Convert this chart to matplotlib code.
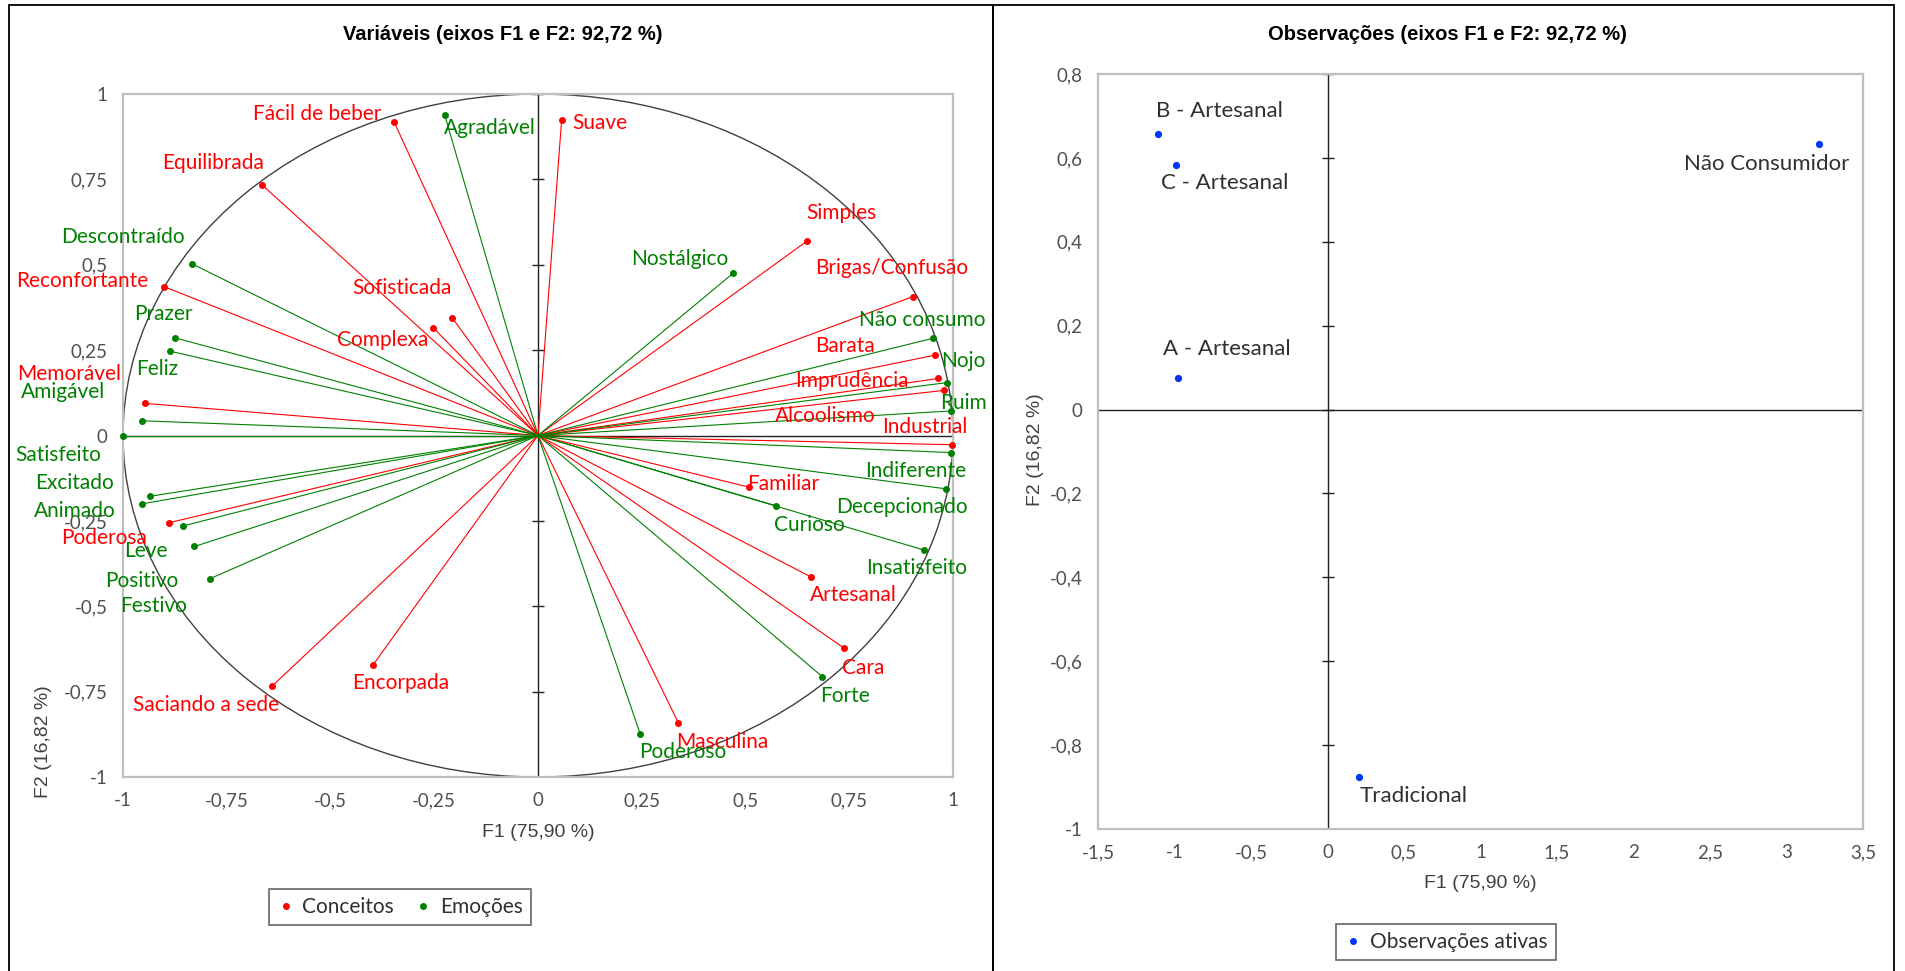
import numpy as np
import matplotlib
matplotlib.use("Agg")
import matplotlib.pyplot as plt
from matplotlib.patches import Circle, Rectangle
from matplotlib.lines import Line2D

# ---------------- data ----------------
conceitos = ["Fácil de beber", "Suave", "Equilibrada", "Simples", "Brigas/Confusão",
             "Reconfortante", "Sofisticada", "Complexa", "Barata", "Imprudência",
             "Memorável", "Alcoolismo", "Industrial", "Familiar", "Poderosa",
             "Artesanal", "Cara", "Saciando a sede", "Encorpada", "Masculina"]
conc_f1 = [-0.347, 0.057, -0.664, 0.649, 0.904, -0.901, -0.207, -0.252, 0.956, 0.965,
           -0.947, 0.978, 0.998, 0.508, -0.888, 0.659, 0.738, -0.640, -0.397, 0.338]
conc_f2 = [0.919, 0.925, 0.733, 0.570, 0.407, 0.436, 0.345, 0.315, 0.235, 0.167,
           0.094, 0.132, -0.027, -0.151, -0.255, -0.415, -0.623, -0.733, -0.671, -0.841]

emocoes = ["Agradável", "Descontraído", "Prazer", "Feliz", "Amigável", "Satisfeito",
           "Excitado", "Animado", "Leve", "Positivo", "Festivo", "Nostálgico",
           "Não consumo", "Nojo", "Ruim", "Indiferente", "Decepcionado", "Curioso",
           "Insatisfeito", "Forte", "Poderoso"]
emo_f1 = [-0.225, -0.834, -0.875, -0.887, -0.954, -0.999, -0.935, -0.954, -0.856, -0.828,
          -0.790, 0.470, 0.953, 0.986, 0.996, 0.996, 0.982, 0.574, 0.929, 0.685, 0.246]
emo_f2 = [0.939, 0.503, 0.286, 0.247, 0.043, 0.0, -0.178, -0.200, -0.265, -0.325,
          -0.419, 0.475, 0.285, 0.155, 0.072, -0.050, -0.156, -0.206, -0.335, -0.706, -0.873]

obs_names = ["B - Artesanal", "C - Artesanal", "A - Artesanal", "Não Consumidor", "Tradicional"]
obs_f1 = [-1.107, -0.993, -0.978, 3.214, 0.207]
obs_f2 = [0.658, 0.584, 0.076, 0.633, -0.875]

var_xticks = [-1, -0.75, -0.5, -0.25, 0, 0.25, 0.5, 0.75, 1]
var_xticklabels = ["-1", "-0,75", "-0,5", "-0,25", "0", "0,25", "0,5", "0,75", "1"]
var_yticks = var_xticks
var_yticklabels = var_xticklabels
obs_xticks = [-1.5, -1, -0.5, 0, 0.5, 1, 1.5, 2, 2.5, 3, 3.5]
obs_xticklabels = ["-1,5", "-1", "-0,5", "0", "0,5", "1", "1,5", "2", "2,5", "3", "3,5"]
obs_yticks = [-1, -0.8, -0.6, -0.4, -0.2, 0, 0.2, 0.4, 0.6, 0.8]
obs_yticklabels = ["-1", "-0,8", "-0,6", "-0,4", "-0,2", "0", "0,2", "0,4", "0,6", "0,8"]

title_var = "Variáveis (eixos F1 e F2: 92,72 %)"
title_obs = "Observações (eixos F1 e F2: 92,72 %)"
xlabel = "F1 (75,90 %)"
ylabel = "F2 (16,82 %)"

# ---------------- layout (label offsets in data units) ----------------
conc_off = [(-0.184, 0.023), (0.091, -0.010), (-0.119, 0.065), (0.081, 0.082), (-0.051, 0.084),
            (-0.197, 0.017), (-0.121, 0.087), (-0.122, -0.036), (-0.217, 0.027), (-0.208, -0.007),
            (-0.183, 0.085), (-0.287, -0.074), (-0.065, 0.053), (0.084, 0.010), (-0.157, -0.045),
            (0.100, -0.053), (0.046, -0.058), (-0.159, -0.055), (0.066, -0.054), (0.106, -0.057)]
emo_off = [(0.109, -0.039), (-0.165, 0.078), (-0.027, 0.071), (-0.030, -0.053), (-0.190, 0.083),
           (-0.156, -0.057), (-0.181, 0.038), (-0.162, -0.022), (-0.090, -0.072), (-0.127, -0.102),
           (-0.136, -0.080), (-0.128, 0.041), (-0.026, 0.053), (0.040, 0.063), (0.029, 0.022),
           (-0.087, -0.055), (-0.105, -0.054), (0.081, -0.055), (-0.016, -0.053), (0.054, -0.058),
           (0.102, -0.054)]
obs_off = [(0.40, 0.054), (0.324, -0.043), (0.32, 0.069), (-0.343, -0.048), (0.359, -0.046)]

RED = "#FF0000"
GREEN = "#008000"
BLUE = "#0036F5"
TICKC = "#505050"
LABFONT = ["Lato", "DejaVu Sans"]
AXFONT = ["Liberation Sans", "DejaVu Sans"]
LABSIZE = 15

W, H = 1905, 971
fig = plt.figure(figsize=(W / 100, H / 100), dpi=100)


def fbox(x0, y0, x1, y1):
    return [x0 / W, 1 - y1 / H, (x1 - x0) / W, (y1 - y0) / H]


def style_axes(ax, xt, xtl, yt, ytl, xlim, ylim, pad):
    ax.set_xlim(*xlim)
    ax.set_ylim(*ylim)
    ax.set_xticks(xt)
    ax.set_xticklabels(xtl)
    ax.set_yticks(yt)
    ax.set_yticklabels(ytl)
    ax.tick_params(length=0, pad=pad, labelsize=13.5, labelcolor=TICKC)
    for lab in ax.get_xticklabels() + ax.get_yticklabels():
        lab.set_fontfamily(LABFONT)
    for sp in ax.spines.values():
        sp.set_color("#BFBFBF")
        sp.set_linewidth(1.6)
    ax.axhline(0, color="#202020", lw=1.0, zorder=1)
    ax.axvline(0, color="#202020", lw=1.0, zorder=1)
    # tick marks on the vertical zero axis
    xr = xlim[1] - xlim[0]
    wpx = ax.get_position().width * W
    d = 6 * xr / wpx
    for v in yt:
        ax.plot([-d, d], [v, v], color="#202020", lw=1.0, zorder=1, solid_capstyle="butt")


# ---------------- left: variables ----------------
ax1 = fig.add_axes(fbox(123, 94, 953, 777))
style_axes(ax1, var_xticks, var_xticklabels, var_yticks, var_yticklabels,
           (-1, 1), (-1, 1), 11)
ax1.add_patch(Circle((0, 0), 1, fill=False, edgecolor="#404040", lw=1.0, zorder=2))

for x, y in zip(conc_f1, conc_f2):
    ax1.plot([0, x], [0, y], color=RED, lw=0.8, zorder=3)
for x, y in zip(emo_f1, emo_f2):
    ax1.plot([0, x], [0, y], color=GREEN, lw=0.8, zorder=3)
ax1.plot(conc_f1, conc_f2, "o", color=RED, ms=4, zorder=4, clip_on=False)
ax1.plot(emo_f1, emo_f2, "o", color=GREEN, ms=4, zorder=4, clip_on=False)

for name, x, y, (dx, dy) in zip(conceitos, conc_f1, conc_f2, conc_off):
    ax1.text(x + dx, y + dy, name, color=RED, fontsize=LABSIZE, family=LABFONT,
             ha="center", va="center", zorder=5, clip_on=False)
for name, x, y, (dx, dy) in zip(emocoes, emo_f1, emo_f2, emo_off):
    ax1.text(x + dx, y + dy, name, color=GREEN, fontsize=LABSIZE, family=LABFONT,
             ha="center", va="center", zorder=5, clip_on=False)

fig.text(503 / W, 1 - 34 / H, title_var, ha="center", va="center",
         fontsize=14.5, fontweight="bold", family=AXFONT)
fig.text(538 / W, 1 - 832 / H, xlabel, ha="center", va="center",
         fontsize=14, family=AXFONT, color="#404040")
fig.text(43 / W, 1 - 742 / H, ylabel, ha="center", va="center", rotation=90,
         fontsize=14, family=AXFONT, color="#404040")

# ---------------- right: observations ----------------
ax2 = fig.add_axes(fbox(1098, 74, 1863, 829))
style_axes(ax2, obs_xticks, obs_xticklabels, obs_yticks, obs_yticklabels,
           (-1.5, 3.5), (-1, 0.8), 11)
ax2.plot(obs_f1, obs_f2, "o", color=BLUE, ms=4.2, zorder=4)
for name, x, y, (dx, dy) in zip(obs_names, obs_f1, obs_f2, obs_off):
    ax2.text(x + dx, y + dy, name, color="#303030", fontsize=16, family=LABFONT,
             ha="center", va="center", zorder=5)

fig.text(1447 / W, 1 - 35 / H, title_obs, ha="center", va="center",
         fontsize=14.5, fontweight="bold", family=AXFONT)
fig.text(1480 / W, 1 - 883 / H, xlabel, ha="center", va="center",
         fontsize=14, family=AXFONT, color="#404040")
fig.text(1035 / W, 1 - 450 / H, ylabel, ha="center", va="center", rotation=90,
         fontsize=14, family=AXFONT, color="#404040")

# ---------------- legends ----------------
h_c = Line2D([], [], ls="none", marker="o", color=RED, ms=4)
h_e = Line2D([], [], ls="none", marker="o", color=GREEN, ms=4)
leg1 = fig.legend([h_c, h_e], ["Conceitos", "Emoções"], loc="center",
                  bbox_to_anchor=(400 / W, 1 - 907 / H), ncol=2, frameon=True,
                  fancybox=False, edgecolor="#404040", handlelength=0.8,
                  handletextpad=0.4, columnspacing=1.0, borderpad=0.4,
                  prop={"family": LABFONT, "size": 15}, labelcolor="#303030")
leg1.get_frame().set_linewidth(1.2)
h_o = Line2D([], [], ls="none", marker="o", color=BLUE, ms=4)
leg2 = fig.legend([h_o], ["Observações ativas"], loc="center",
                  bbox_to_anchor=(1446 / W, 1 - 942 / H), frameon=True,
                  fancybox=False, edgecolor="#404040", handlelength=0.8,
                  handletextpad=0.4, borderpad=0.4,
                  prop={"family": LABFONT, "size": 15}, labelcolor="#303030")
leg2.get_frame().set_linewidth(1.2)

# ---------------- panel borders ----------------
for (x0, y0, x1, y1) in [(9, 5, 993, 990), (993, 4.5, 1894, 990)]:
    fig.patches.append(Rectangle((x0 / W, 1 - y1 / H), (x1 - x0) / W, (y1 - y0) / H,
                                 transform=fig.transFigure, fill=False,
                                 edgecolor="black", lw=1.3, zorder=0))

fig.savefig("out.png", dpi=100, facecolor="white")
